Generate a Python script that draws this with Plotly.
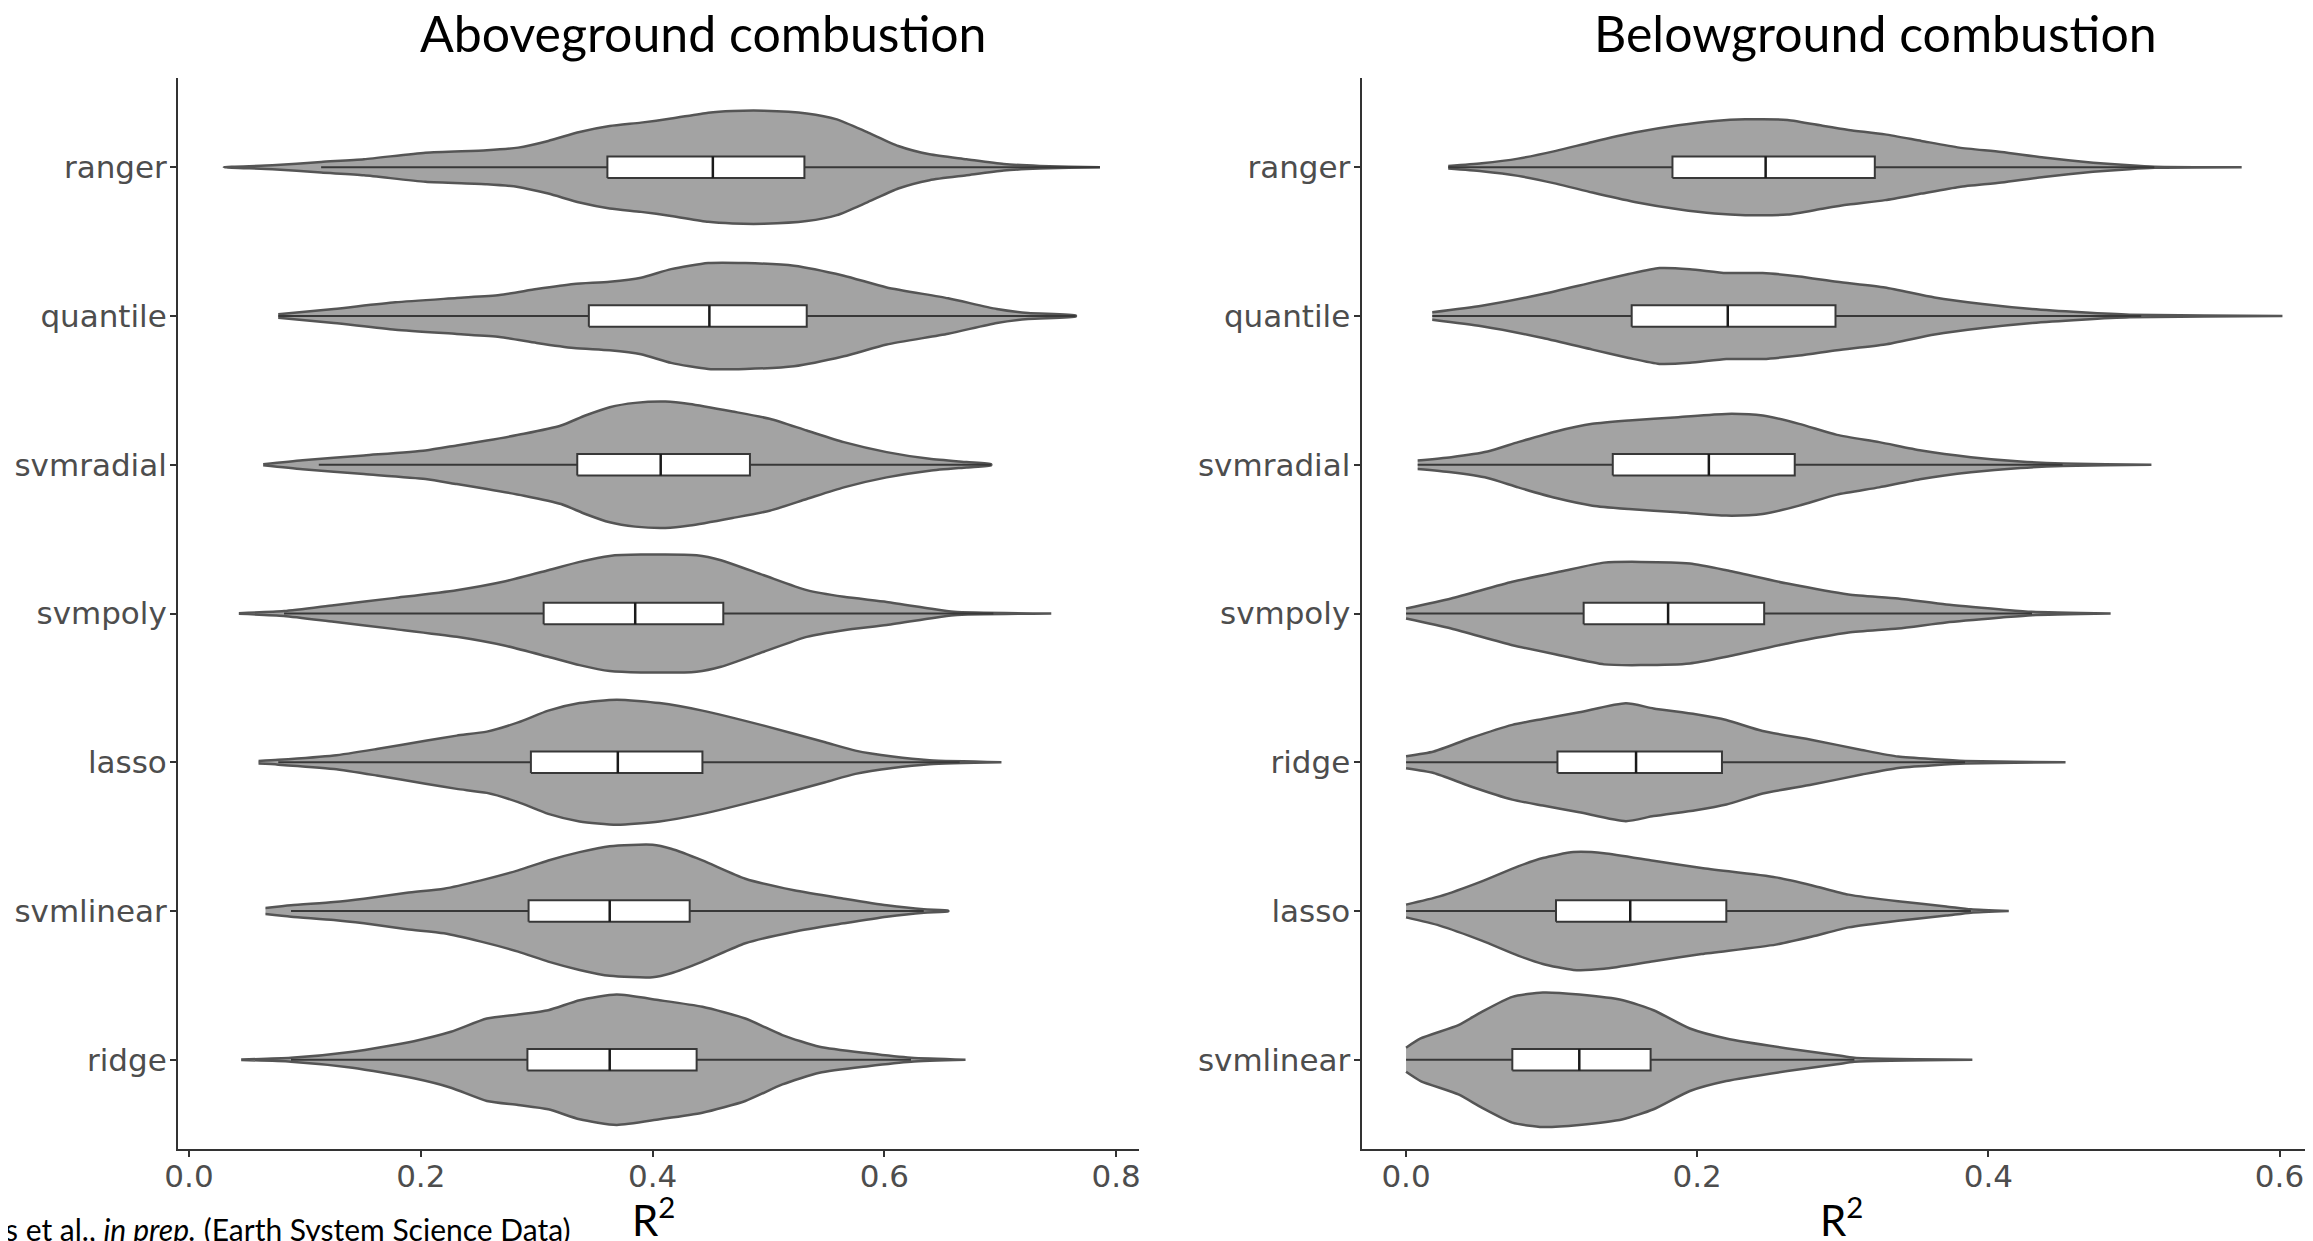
import plotly.graph_objects as go

# ---------------- data ----------------
AG_MODELS = ["ranger", "quantile", "svmradial", "svmpoly", "lasso", "svmlinear", "ridge"]
BG_MODELS = ["ranger", "quantile", "svmradial", "svmpoly", "ridge", "lasso", "svmlinear"]

# box statistics (R2), in the order of the model lists (top to bottom)
AG_Q1 = [0.361, 0.345, 0.335, 0.306, 0.295, 0.293, 0.292]
AG_MED = [0.452, 0.449, 0.407, 0.385, 0.370, 0.363, 0.363]
AG_Q3 = [0.531, 0.533, 0.484, 0.461, 0.443, 0.432, 0.438]
AG_LO = [0.114, 0.077, 0.112, 0.082, 0.077, 0.088, 0.088]
AG_HI = [0.786, 0.765, 0.692, 0.694, 0.665, 0.634, 0.623]

BG_Q1 = [0.183, 0.155, 0.142, 0.122, 0.104, 0.103, 0.073]
BG_MED = [0.247, 0.221, 0.208, 0.180, 0.158, 0.154, 0.119]
BG_Q3 = [0.322, 0.295, 0.267, 0.246, 0.217, 0.220, 0.168]
BG_LO = [0.029, 0.018, 0.008, 0.0, 0.0, 0.0, 0.0]
BG_HI = [0.514, 0.505, 0.451, 0.430, 0.384, 0.388, 0.308]

# violin outlines: R2 values and half-widths (category units)
AG_VX = {
    "ranger": [0.030, 0.072, 0.114, 0.151, 0.204, 0.257, 0.284, 0.310, 0.337, 0.363, 0.390, 0.416, 0.448, 0.469, 0.496, 0.533, 0.559, 0.586, 0.612, 0.639, 0.671, 0.703, 0.734, 0.786],
    "quantile": [0.077, 0.125, 0.178, 0.231, 0.268, 0.300, 0.332, 0.363, 0.390, 0.416, 0.448, 0.480, 0.522, 0.565, 0.602, 0.655, 0.697, 0.724, 0.765],
    "svmradial": [0.064, 0.098, 0.151, 0.204, 0.231, 0.257, 0.289, 0.321, 0.342, 0.363, 0.385, 0.411, 0.432, 0.469, 0.501, 0.533, 0.565, 0.602, 0.639, 0.671, 0.692],
    "svmpoly": [0.043, 0.082, 0.125, 0.178, 0.231, 0.273, 0.310, 0.337, 0.363, 0.390, 0.438, 0.459, 0.496, 0.533, 0.565, 0.602, 0.639, 0.660, 0.744],
    "lasso": [0.060, 0.077, 0.125, 0.162, 0.204, 0.231, 0.257, 0.284, 0.310, 0.337, 0.369, 0.406, 0.443, 0.496, 0.549, 0.575, 0.607, 0.639, 0.701],
    "svmlinear": [0.066, 0.088, 0.125, 0.151, 0.188, 0.220, 0.252, 0.284, 0.310, 0.337, 0.363, 0.400, 0.416, 0.443, 0.480, 0.522, 0.565, 0.602, 0.634, 0.655],
    "ridge": [0.045, 0.088, 0.141, 0.194, 0.226, 0.257, 0.284, 0.310, 0.337, 0.369, 0.406, 0.443, 0.480, 0.512, 0.544, 0.586, 0.623, 0.670],
}
AG_VW = {
    "ranger": [0.0, 0.013, 0.036, 0.054, 0.098, 0.114, 0.132, 0.177, 0.237, 0.277, 0.300, 0.327, 0.367, 0.378, 0.380, 0.362, 0.322, 0.233, 0.143, 0.087, 0.054, 0.022, 0.009, 0.0],
    "quantile": [0.011, 0.047, 0.092, 0.121, 0.141, 0.181, 0.215, 0.230, 0.257, 0.315, 0.356, 0.356, 0.338, 0.271, 0.192, 0.119, 0.047, 0.020, 0.004],
    "svmradial": [0.004, 0.031, 0.063, 0.096, 0.130, 0.163, 0.208, 0.264, 0.331, 0.387, 0.416, 0.425, 0.409, 0.358, 0.309, 0.230, 0.152, 0.085, 0.040, 0.018, 0.004],
    "svmpoly": [0.002, 0.016, 0.056, 0.105, 0.157, 0.217, 0.291, 0.347, 0.387, 0.396, 0.391, 0.358, 0.257, 0.157, 0.112, 0.078, 0.034, 0.011, 0.0],
    "lasso": [0.009, 0.016, 0.045, 0.089, 0.145, 0.179, 0.206, 0.268, 0.347, 0.398, 0.421, 0.398, 0.347, 0.246, 0.134, 0.078, 0.038, 0.013, 0.0],
    "svmlinear": [0.020, 0.038, 0.060, 0.083, 0.123, 0.150, 0.206, 0.273, 0.340, 0.396, 0.436, 0.445, 0.418, 0.340, 0.217, 0.139, 0.083, 0.038, 0.011, 0.003],
    "ridge": [0.002, 0.013, 0.054, 0.125, 0.188, 0.277, 0.304, 0.333, 0.400, 0.438, 0.400, 0.356, 0.277, 0.166, 0.087, 0.043, 0.013, 0.0],
}
BG_VX = {
    "ranger": [0.029, 0.052, 0.077, 0.103, 0.128, 0.157, 0.187, 0.212, 0.233, 0.262, 0.287, 0.304, 0.329, 0.354, 0.380, 0.409, 0.438, 0.472, 0.497, 0.514, 0.574],
    "quantile": [0.018, 0.052, 0.094, 0.128, 0.153, 0.174, 0.195, 0.220, 0.245, 0.270, 0.296, 0.329, 0.363, 0.396, 0.430, 0.464, 0.497, 0.602],
    "svmradial": [0.008, 0.031, 0.056, 0.077, 0.103, 0.128, 0.153, 0.187, 0.220, 0.245, 0.270, 0.296, 0.325, 0.354, 0.388, 0.422, 0.451, 0.512],
    "svmpoly": [0.0, 0.031, 0.073, 0.107, 0.136, 0.161, 0.195, 0.220, 0.262, 0.304, 0.338, 0.371, 0.409, 0.430, 0.484],
    "ridge": [0.0, 0.019, 0.044, 0.073, 0.094, 0.119, 0.151, 0.170, 0.199, 0.220, 0.245, 0.279, 0.313, 0.338, 0.363, 0.384, 0.453],
    "lasso": [0.0, 0.023, 0.052, 0.077, 0.094, 0.115, 0.136, 0.170, 0.203, 0.254, 0.279, 0.304, 0.338, 0.371, 0.388, 0.414],
    "svmlinear": [0.0, 0.010, 0.036, 0.052, 0.073, 0.094, 0.119, 0.149, 0.170, 0.195, 0.220, 0.262, 0.296, 0.308, 0.389],
}
BG_VW = {
    "ranger": [0.009, 0.027, 0.058, 0.110, 0.170, 0.233, 0.282, 0.311, 0.322, 0.318, 0.277, 0.251, 0.221, 0.177, 0.132, 0.103, 0.065, 0.031, 0.013, 0.004, 0.0],
    "quantile": [0.025, 0.069, 0.148, 0.226, 0.282, 0.322, 0.315, 0.289, 0.289, 0.266, 0.230, 0.192, 0.125, 0.081, 0.047, 0.025, 0.009, 0.0],
    "svmradial": [0.029, 0.051, 0.089, 0.152, 0.224, 0.275, 0.298, 0.320, 0.342, 0.331, 0.275, 0.201, 0.152, 0.096, 0.051, 0.022, 0.009, 0.0],
    "svmpoly": [0.034, 0.101, 0.213, 0.284, 0.342, 0.347, 0.336, 0.291, 0.201, 0.128, 0.101, 0.060, 0.027, 0.011, 0.0],
    "ridge": [0.040, 0.072, 0.161, 0.251, 0.291, 0.336, 0.396, 0.362, 0.322, 0.284, 0.210, 0.150, 0.083, 0.038, 0.020, 0.009, 0.0],
    "lasso": [0.043, 0.098, 0.199, 0.300, 0.356, 0.396, 0.389, 0.338, 0.289, 0.226, 0.172, 0.110, 0.065, 0.031, 0.011, 0.0],
    "svmlinear": [0.081, 0.143, 0.233, 0.322, 0.423, 0.452, 0.438, 0.400, 0.333, 0.210, 0.143, 0.076, 0.031, 0.013, 0.0],
}

AG_TICKS = [0.0, 0.2, 0.4, 0.6, 0.8]
BG_TICKS = [0.0, 0.2, 0.4, 0.6]
TITLES = ["Aboveground combustion", "Belowground combustion"]
CAPTION = "s et al., <i>in prep.</i> (Earth System Science Data)"

# ---------------- styling ----------------
PAGE_W, PAGE_H = 2313, 1241
OFF = 8  # default body margin of the html page
W, H = PAGE_W - OFF, PAGE_H - OFF


def px_x(page_x):
    return (page_x - OFF) / W


def px_y(page_y):
    return 1 - (page_y - OFF) / H


VIOLIN_FILL = "#A3A3A3"
VIOLIN_LINE = "#555555"
BOX_LINE = "#383838"
BOX_HALF = 0.072
TICK_FONT = dict(family="DejaVu Sans", size=31, color="#4D4D4D")
TITLE_FONT = dict(family="Lato", size=50, color="black")

fig = go.Figure()


def add_panel(models, vx, vw, q1, med, q3, lo, hi, xa, ya):
    n = len(models)
    for i, m in enumerate(models):
        pos = n - i
        xs = vx[m]
        ws = vw[m]
        px = xs + xs[::-1]
        py = [pos + w for w in ws] + [pos - w for w in ws[::-1]]
        fig.add_trace(go.Scatter(
            x=px, y=py, xaxis=xa, yaxis=ya, mode="lines", fill="toself",
            fillcolor=VIOLIN_FILL, line=dict(color=VIOLIN_LINE, width=2.5, shape="spline", smoothing=0.6),
            hoverinfo="skip", showlegend=False))
        # whisker line
        fig.add_trace(go.Scatter(
            x=[lo[i], hi[i]], y=[pos, pos], xaxis=xa, yaxis=ya, mode="lines",
            line=dict(color=BOX_LINE, width=2), hoverinfo="skip", showlegend=False))
        # box
        fig.add_trace(go.Scatter(
            x=[q1[i], q3[i], q3[i], q1[i], q1[i]],
            y=[pos - BOX_HALF, pos - BOX_HALF, pos + BOX_HALF, pos + BOX_HALF, pos - BOX_HALF],
            xaxis=xa, yaxis=ya, mode="lines", fill="toself", fillcolor="white",
            line=dict(color=BOX_LINE, width=2), hoverinfo="skip", showlegend=False))
        # median
        fig.add_trace(go.Scatter(
            x=[med[i], med[i]], y=[pos - BOX_HALF, pos + BOX_HALF], xaxis=xa, yaxis=ya,
            mode="lines", line=dict(color="#1a1a1a", width=2.5), hoverinfo="skip", showlegend=False))


add_panel(AG_MODELS, AG_VX, AG_VW, AG_Q1, AG_MED, AG_Q3, AG_LO, AG_HI, "x", "y")
add_panel(BG_MODELS, BG_VX, BG_VW, BG_Q1, BG_MED, BG_Q3, BG_LO, BG_HI, "x2", "y2")

y_dom = [px_y(1149), px_y(78)]
axis_common = dict(showline=True, linecolor="#333333", linewidth=2, ticks="outside", ticklen=6,
                   tickcolor="#333333", tickwidth=2, showgrid=False, zeroline=False,
                   tickfont=TICK_FONT, fixedrange=True, automargin=False)

n = len(AG_MODELS)
fig.update_layout(
    width=W, height=H,
    margin=dict(l=0, r=0, t=0, b=0),
    paper_bgcolor="white", plot_bgcolor="white",
    showlegend=False,
    xaxis=dict(domain=[px_x(178), px_x(1139)], range=[-0.0095, 0.8197], anchor="y",
               tickvals=AG_TICKS, ticktext=[f"{t:.1f}" for t in AG_TICKS],
               ticklabelstandoff=-7, **axis_common),
    yaxis=dict(domain=y_dom, range=[0.4, n + 0.6], anchor="x",
               tickvals=[n - i for i in range(n)], ticktext=AG_MODELS,
               ticklabelstandoff=-3, **axis_common),
    xaxis2=dict(domain=[px_x(1361.5), 1.0], range=[-0.0306, 0.623], anchor="y2",
                tickvals=BG_TICKS, ticktext=[f"{t:.1f}" for t in BG_TICKS],
                ticklabelstandoff=-7, **axis_common),
    yaxis2=dict(domain=y_dom, range=[0.4, n + 0.6], anchor="x2",
                tickvals=[n - i for i in range(n)], ticktext=BG_MODELS,
                ticklabelstandoff=-3, **axis_common),
)

annotations = [
    dict(text=TITLES[0], x=px_x(703), y=px_y(33), xref="paper", yref="paper",
         showarrow=False, font=TITLE_FONT, xanchor="center", yanchor="middle"),
    dict(text=TITLES[1], x=px_x(1875), y=px_y(33), xref="paper", yref="paper",
         showarrow=False, font=TITLE_FONT, xanchor="center", yanchor="middle"),
    dict(text="R<sup>2</sup>", x=px_x(654), y=px_y(1217), xref="paper", yref="paper",
         showarrow=False, font=dict(family="Lato", size=42, color="black"), xanchor="center", yanchor="middle"),
    dict(text="R<sup>2</sup>", x=px_x(1841), y=px_y(1217), xref="paper", yref="paper",
         showarrow=False, font=dict(family="Lato", size=42, color="black"), xanchor="center", yanchor="middle"),
    dict(text=CAPTION, x=px_x(3), y=px_y(1229), xref="paper", yref="paper",
         showarrow=False, font=dict(family="Lato", size=30, color="black"), xanchor="left", yanchor="middle"),
]
fig.update_layout(annotations=annotations)

fig.write_html("out.html")
